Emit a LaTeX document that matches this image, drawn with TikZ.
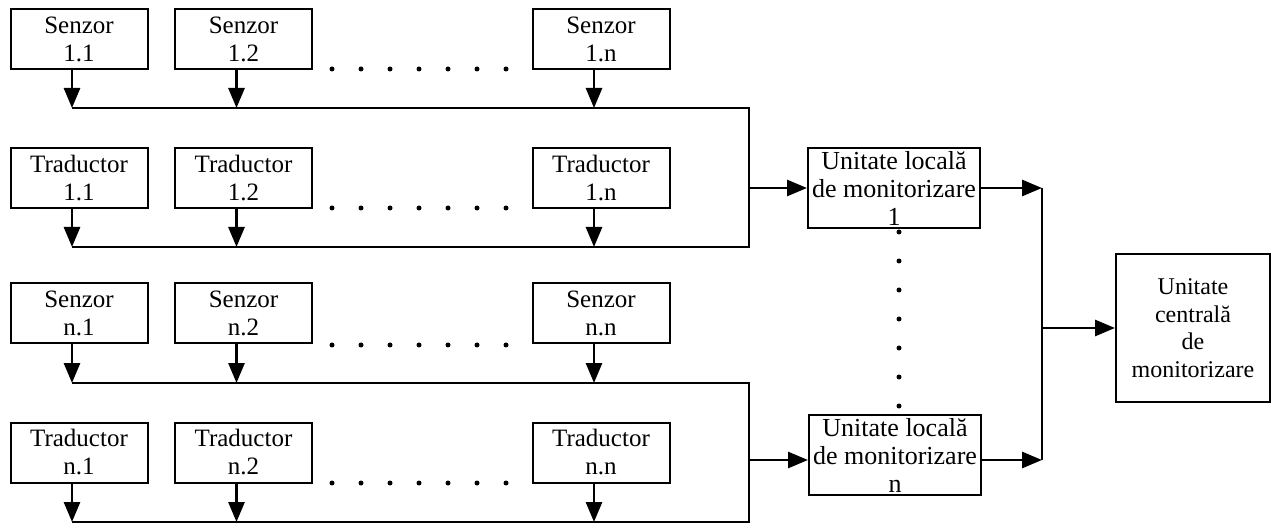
\documentclass[tikz,border=0pt]{standalone}
\usepackage{fontspec}
\setmainfont{Liberation Serif}
\usetikzlibrary{arrows.meta}

\begin{document}
\begin{tikzpicture}[x=1pt,y=-1pt,
  box/.style={draw,line width=2pt,align=center,inner sep=0pt,
    minimum width=137pt,minimum height=60pt,font=\fontsize{25}{28}\selectfont},
  unit/.style={box,minimum width=172pt,minimum height=80pt,font=\fontsize{26}{28}\selectfont},
  bus/.style={line width=2.8pt},
  arr/.style={line width=2.8pt,-{Triangle[length=20pt,width=16pt]}},
  dotrow/.style={line width=5pt,line cap=round,dash pattern=on 0pt off 29pt}]
  \useasboundingbox (0,0) rectangle (1271,526);

  % Senzori 1
  \node[box] (s11) at (79,39) {Senzor\\1.1};
  \node[box] (s12) at (243.5,39) {Senzor\\1.2};
  \node[box] (s1n) at (601,39) {Senzor\\1.n};

  % Traductori 1
  \node[box] (t11) at (79,178.5) {Traductor\\1.1};
  \node[box] (t12) at (243.5,178.5) {Traductor\\1.2};
  \node[box] (t1n) at (601,178.5) {Traductor\\1.n};

  % Senzori n
  \node[box] (sn1) at (79,313.5) {Senzor\\n.1};
  \node[box] (sn2) at (243.5,313.5) {Senzor\\n.2};
  \node[box] (snn) at (601,313.5) {Senzor\\n.n};

  % Traductori n
  \node[box] (tn1) at (79,452.5) {Traductor\\n.1};
  \node[box] (tn2) at (243.5,452.5) {Traductor\\n.2};
  \node[box] (tnn) at (601,452.5) {Traductor\\n.n};

  % Unitati
  \node[unit] (ulm1) at (894,188) {Unitate locală\\de monitorizare\\1};
  \node[unit] (ulmn) at (895,455) {Unitate locală\\de monitorizare\\n};
  \node[box,minimum width=154pt,minimum height=147pt,font=\fontsize{24}{27.5}\selectfont]
    (cen) at (1193,328) {Unitate\\centrală\\de\\monitorizare};

  % Bus corners
  \coordinate (b1) at (749,108);
  \coordinate (b2) at (749,247);
  \coordinate (b3) at (749,383);
  \coordinate (b4) at (749,522);
  \coordinate (c1) at (1042,188);
  \coordinate (c2) at (1042,460);

  % Bus lines
  \draw[bus] ([xshift=-7pt]s11.south |- b1) -- (b1) -- (b2) -- ([xshift=-7pt]t11.south |- b2);
  \draw[bus] ([xshift=-7pt]sn1.south |- b3) -- (b3) -- (b4) -- ([xshift=-7pt]tn1.south |- b4);

  % Arrows down
  \draw[arr] ([xshift=-7pt]s11.south) -- ([xshift=-7pt]s11.south |- b1);
  \draw[arr] ([xshift=-7pt]s12.south) -- ([xshift=-7pt]s12.south |- b1);
  \draw[arr] ([xshift=-7pt]s1n.south) -- ([xshift=-7pt]s1n.south |- b1);
  \draw[arr] ([xshift=-7pt]t11.south) -- ([xshift=-7pt]t11.south |- b2);
  \draw[arr] ([xshift=-7pt]t12.south) -- ([xshift=-7pt]t12.south |- b2);
  \draw[arr] ([xshift=-7pt]t1n.south) -- ([xshift=-7pt]t1n.south |- b2);
  \draw[arr] ([xshift=-7pt]sn1.south) -- ([xshift=-7pt]sn1.south |- b3);
  \draw[arr] ([xshift=-7pt]sn2.south) -- ([xshift=-7pt]sn2.south |- b3);
  \draw[arr] ([xshift=-7pt]snn.south) -- ([xshift=-7pt]snn.south |- b3);
  \draw[arr] ([xshift=-7pt]tn1.south) -- ([xshift=-7pt]tn1.south |- b4);
  \draw[arr] ([xshift=-7pt]tn2.south) -- ([xshift=-7pt]tn2.south |- b4);
  \draw[arr] ([xshift=-7pt]tnn.south) -- ([xshift=-7pt]tnn.south |- b4);

  % Into local units
  \draw[arr] (b1 |- ulm1.west) -- (ulm1.west);
  \draw[arr] (b3 |- c2) -- (ulmn.west |- c2);

  % Out of local units
  \draw[arr] (ulm1.east) -- (c1);
  \draw[arr] (ulmn.east |- c2) -- (c2);
  \draw[bus] (c1) -- (c2);
  \draw[arr] (c1 |- cen.west) -- (cen.west);

  % Dots
  \draw[dotrow] (332,69) -- (507,69);
  \draw[dotrow] (332,208) -- (507,208);
  \draw[dotrow] (332,345) -- (507,345);
  \draw[dotrow] (332,483) -- (507,483);
  \draw[dotrow] (899,232) -- (899,407);

\end{tikzpicture}
\end{document}
